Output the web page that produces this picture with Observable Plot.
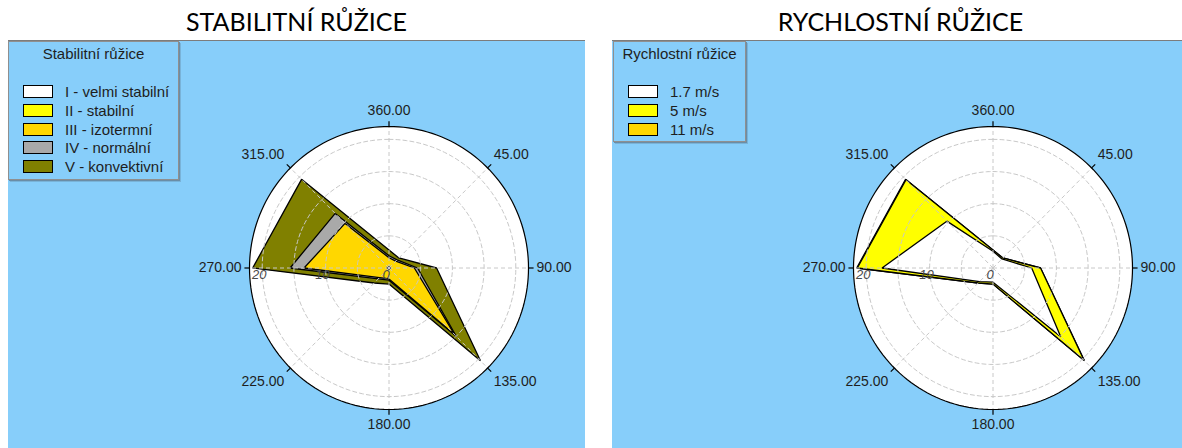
<!DOCTYPE html>
<html>
<head>
<meta charset="utf-8">
<script src="https://cdn.jsdelivr.net/npm/d3@7"></script>
<script src="https://cdn.jsdelivr.net/npm/@observablehq/plot@0.6"></script>
<style>
  body { margin: 0; width: 1182px; height: 448px; overflow: hidden; position: relative; background: #fff;
         font-family: "Liberation Sans", Arial, sans-serif; color: #1e1e1e; }
  .title { position: absolute; top: 9px; width: 577px; text-align: center; font-family: Lato, sans-serif;
           font-size: 25px; line-height: 25px; color: #000; }
  .panel { position: absolute; top: 40px; width: 577px; height: 408px; background: #87cefa;
           border-top: 1px solid #7c7c7c; box-sizing: border-box; }
  .panel svg { position: absolute; left: 0; top: -1px; }
  .legend { position: absolute; top: 0px; border: 1px solid #8f8f8f; background: #87cefa;
            box-shadow: 1px 1px 0 #6a8da6, 2px 2px 0 #79b3d8; }
  .legend .ltitle { position: absolute; left: 0; right: 0; top: 4px; text-align: center; font-size: 15px; line-height: 15px; }
  .legend .row { position: absolute; left: 14px; height: 14px; font-size: 15px; line-height: 14px; white-space: nowrap; }
  .legend .sw { position: absolute; left: 0; top: 0; width: 28px; height: 11px; border: 1px solid #000; }
  .legend .lbl { position: absolute; left: 42px; top: 0; }
</style>
</head>
<body>
<div id="root"></div>
<script>
// Wind directions (degrees) and their axis labels
const directions = [0, 45, 90, 135, 180, 225, 270, 315];
const directionLabels = ["360.00", "45.00", "90.00", "135.00", "180.00", "225.00", "270.00", "315.00"];
// Radial axis (% frequency)
const radialMax = 22;
const radialGrid = [5, 10, 15, 20];
const radialLabels = [0, 10, 20];

// Stability rose: frequency (%) per direction for each stability class
const stabilityNames = ["I - velmi stabilní", "II - stabilní", "III - izotermní", "IV - normální", "V - konvektivní"];
const stabilityColors = ["#ffffff", "#ffff00", "#ffd700", "#a9a9a9", "#808000"];
const stabilityI   = [0.1, 0.1, 0.1, 0.1, 0.1, 0.1, 0.1, 0.1];
const stabilityII  = [0.1, 0.1, 0.1, 0.2, 0.1, 0.1, 0.2, 0.2];
const stabilityIII = [1.4, 1.3, 3.8, 14.3, 1.5, 1.9, 13.1, 9.5];
const stabilityIV  = [0.3, 0.3, 0.5, 0.4, 0.2, 0.3, 2.2, 2.2];
const stabilityV   = [0.9, 0.4, 3.0, 5.4, 0.6, 0.9, 5.9, 7.5];

// Speed rose: frequency (%) per direction for each wind speed class
const speedNames = ["1.7 m/s", "5 m/s", "11 m/s"];
const speedColors = ["#ffffff", "#ffff00", "#ffd700"];
const speed17 = [2.6, 2.0, 6.1, 15.1, 2.2, 3.0, 17.5, 10.3];
const speed5  = [0.2, 0.2, 1.4, 5.2, 0.3, 0.3, 3.9, 9.1];
const speed11 = [0.0, 0.0, 0.0, 0.1, 0.0, 0.0, 0.1, 0.1];

const rad = (deg) => deg * Math.PI / 180;
const px = (d) => d.r * Math.sin(rad(d.dir));
const py = (d) => d.r * Math.cos(rad(d.dir));
const ring = (r) => d3.range(0, 360, 2).map((dir) => ({dir, r}));

function rose(seriesList, colors) {
  // cumulative (stacked) polygons, drawn from the outermost inward
  let acc = directions.map(() => 0);
  const layers = seriesList.map((s, k) => {
    acc = acc.map((a, i) => a + s[i]);
    return {color: colors[k], pts: directions.map((dir, i) => ({dir, r: acc[i]}))};
  }).reverse();

  const gridRings = radialGrid.flatMap(ring);
  const labelMarks = directions.map((dir, i) => {
    const s = Math.sin(rad(dir)), c = Math.cos(rad(dir));
    const anchor = s > 0.1 ? "start" : s < -0.1 ? "end" : "middle";
    const diag = Math.abs(s) > 0.1 && Math.abs(c) > 0.1;
    const dx = anchor === "middle" ? 0 : Math.sign(s) * (diag ? 6 : 8);
    const dy = c > 0.9 ? -16 : c < -0.9 ? 15 : diag ? -Math.sign(c) * 13 : 0;
    return Plot.text([{dir, r: radialMax, label: directionLabels[i]}], {
      x: px, y: py, text: "label", textAnchor: anchor, dx, dy,
      fontSize: 14, fill: "#1e1e1e"
    });
  });

  return Plot.plot({
    width: 577,
    height: 408,
    x: {domain: [-radialMax, radialMax], range: [241, 520], axis: null},
    y: {domain: [-radialMax, radialMax], range: [369, 86], axis: null},
    style: {background: "transparent", fontFamily: "'Liberation Sans', Arial, sans-serif", overflow: "visible"},
    marks: [
      Plot.line(ring(radialMax), {x: px, y: py, curve: "linear-closed", fill: "#ffffff", stroke: "none"}),
      ...layers.map((L) => Plot.line(L.pts, {
        x: px, y: py, curve: "linear-closed", fill: L.color,
        stroke: "#000", strokeWidth: 1.3, strokeLinejoin: "miter"
      })),
      Plot.line(gridRings, {x: px, y: py, z: "r", curve: "linear-closed",
        stroke: "#c8c8c8", strokeWidth: 1, strokeDasharray: "4,3"}),
      Plot.link(directions, {
        x1: 0, y1: 0,
        x2: (d) => radialMax * Math.sin(rad(d)), y2: (d) => radialMax * Math.cos(rad(d)),
        stroke: "#c8c8c8", strokeWidth: 1, strokeDasharray: "4,3"
      }),
      Plot.line(ring(radialMax), {x: px, y: py, curve: "linear-closed", stroke: "#000", strokeWidth: 1.2}),
      Plot.link(directions, {
        x1: (d) => radialMax * Math.sin(rad(d)), y1: (d) => radialMax * Math.cos(rad(d)),
        x2: (d) => (radialMax + 0.8) * Math.sin(rad(d)), y2: (d) => (radialMax + 0.8) * Math.cos(rad(d)),
        stroke: "#000", strokeWidth: 1.2
      }),
      Plot.text(radialLabels, {x: (d) => -d, y: 0, dx: -3, dy: 7, text: (d) => String(d),
        fontSize: 13, fontStyle: "italic", fill: "#4a4a4a"}),
      ...labelMarks
    ]
  });
}

function legendBox(title, names, colors, width, height) {
  const box = document.createElement("div");
  box.className = "legend";
  box.style.width = width + "px";
  box.style.height = height + "px";
  const t = document.createElement("div");
  t.className = "ltitle";
  t.textContent = title;
  box.appendChild(t);
  names.forEach((name, i) => {
    const row = document.createElement("div");
    row.className = "row";
    row.style.top = (43 + i * 18.8) + "px";
    const sw = document.createElement("div");
    sw.className = "sw";
    sw.style.background = colors[i];
    const lbl = document.createElement("div");
    lbl.className = "lbl";
    lbl.textContent = name;
    row.appendChild(sw);
    row.appendChild(lbl);
    box.appendChild(row);
  });
  return box;
}

function panel(left, titleText, chart, legend) {
  const title = document.createElement("div");
  title.className = "title";
  title.style.left = left + "px";
  title.textContent = titleText;
  document.body.appendChild(title);
  const p = document.createElement("div");
  p.className = "panel";
  p.style.left = left + "px";
  p.appendChild(chart);
  p.appendChild(legend);
  document.body.appendChild(p);
  return p;
}

panel(8, "STABILITNÍ RŮŽICE",
  rose([stabilityI, stabilityII, stabilityIII, stabilityIV, stabilityV], stabilityColors),
  legendBox("Stabilitní růžice", stabilityNames, stabilityColors, 169, 137));

const right = panel(612, "RYCHLOSTNÍ RŮŽICE",
  rose([speed17, speed5, speed11], speedColors),
  legendBox("Rychlostní růžice", speedNames, speedColors, 131, 99));
right.querySelector(".legend").style.left = "1px";
</script>
</body>
</html>
